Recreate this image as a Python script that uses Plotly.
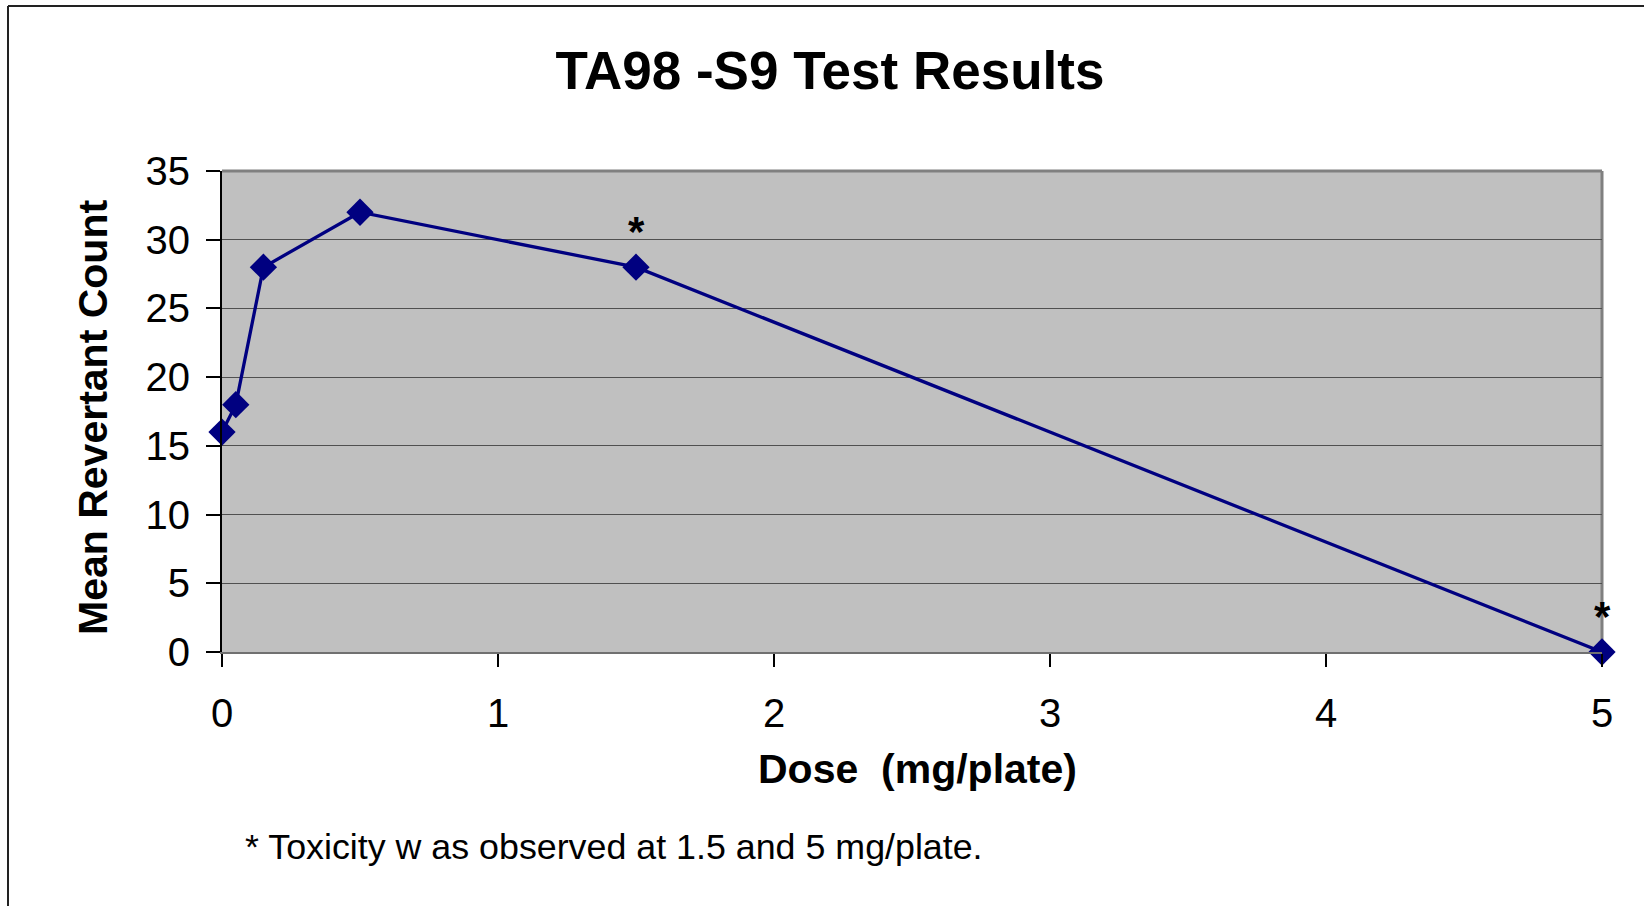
import plotly.graph_objects as go

# Dose-response data
dose_mg_per_plate = [0, 0.05, 0.15, 0.5, 1.5, 5]
mean_revertants = [16, 18, 28, 32, 28, 0]
toxic_doses = [1.5, 5]
x_ticks = [0, 1, 2, 3, 4, 5]
y_ticks = [0, 5, 10, 15, 20, 25, 30, 35]

FONT = "Liberation Sans, Arial, sans-serif"
W, H = 1644, 906
ML, MR, MT, MB = 222, 42, 171, 254
PW, PH = W - ML - MR, H - MT - MB


def px_to_paper_x(px):
    return (px - ML) / PW


def px_to_paper_y(py):
    return (H - MB - py) / PH


fig = go.Figure()
fig.add_trace(go.Scatter(
    x=dose_mg_per_plate, y=mean_revertants,
    mode="lines+markers",
    line=dict(color="#000080", width=3.3),
    marker=dict(symbol="diamond", size=21, color="#000080"),
    cliponaxis=False,
    showlegend=False,
))

# Toxicity markers above the affected doses
for d in toxic_doses:
    yv = mean_revertants[dose_mg_per_plate.index(d)]
    fig.add_annotation(x=d, y=yv, xref="x", yref="y", text="<b>*</b>",
                       showarrow=False, yanchor="middle", yshift=36,
                       font=dict(family=FONT, size=42, color="black"))

# Axis titles and footnote
fig.add_annotation(text="<b>Mean Revertant Count</b>", textangle=-90,
                   xref="paper", yref="paper",
                   x=px_to_paper_x(93), y=px_to_paper_y(418),
                   xanchor="center", yanchor="middle", showarrow=False,
                   font=dict(family=FONT, size=41, color="black"))
fig.add_annotation(text="<b>Dose  (mg/plate)</b>",
                   xref="paper", yref="paper",
                   x=px_to_paper_x(917), y=px_to_paper_y(769),
                   xanchor="center", yanchor="middle", showarrow=False,
                   font=dict(family=FONT, size=41, color="black"))
fig.add_annotation(text="* Toxicity w as observed at 1.5 and 5 mg/plate.",
                   xref="paper", yref="paper",
                   x=px_to_paper_x(243), y=px_to_paper_y(847),
                   xanchor="left", yanchor="middle", showarrow=False,
                   font=dict(family=FONT, size=35.8, color="black"))

# Outer chart frame (left and top edges) and plot-area border
frame = dict(color="#222222", width=2)
fig.add_shape(type="line", xref="paper", yref="paper",
              x0=px_to_paper_x(8), x1=px_to_paper_x(8),
              y0=px_to_paper_y(6), y1=px_to_paper_y(906), line=frame)
fig.add_shape(type="line", xref="paper", yref="paper",
              x0=px_to_paper_x(8), x1=px_to_paper_x(1644),
              y0=px_to_paper_y(6), y1=px_to_paper_y(6), line=frame)
border = dict(color="#808080", width=3)
fig.add_shape(type="line", xref="paper", yref="paper", layer="below",
              x0=0, x1=1, y0=1, y1=1, line=border)
fig.add_shape(type="line", xref="paper", yref="paper", layer="below",
              x0=1, x1=1, y0=0, y1=1, line=border)

fig.update_layout(
    width=W, height=H,
    margin=dict(l=ML, r=MR, t=MT, b=MB),
    paper_bgcolor="white",
    plot_bgcolor="#C0C0C0",
    font=dict(family=FONT, color="black"),
    title=dict(text="<b>TA98 -S9 Test Results</b>",
               x=830 / W, xref="container", xanchor="center",
               y=1 - 70 / H, yref="container", yanchor="middle",
               font=dict(family=FONT, size=53, color="black")),
    xaxis=dict(range=[0, 5], tickvals=x_ticks, ticks="outside", ticklen=13,
               tickcolor="black", tickwidth=1.5,
               tickfont=dict(family=FONT, size=40, color="black"),
               ticklabelstandoff=12,
               showgrid=False, zeroline=False,
               showline=True, linecolor="#707070", linewidth=2),
    yaxis=dict(range=[0, 35], tickvals=y_ticks, ticks="outside", ticklen=14,
               tickcolor="black", tickwidth=1.5,
               tickfont=dict(family=FONT, size=40, color="black"),
               ticklabelstandoff=8,
               showgrid=True, gridcolor="#505050", gridwidth=1.2,
               zeroline=False,
               showline=True, linecolor="black", linewidth=2),
)

fig.write_html("out.html")
